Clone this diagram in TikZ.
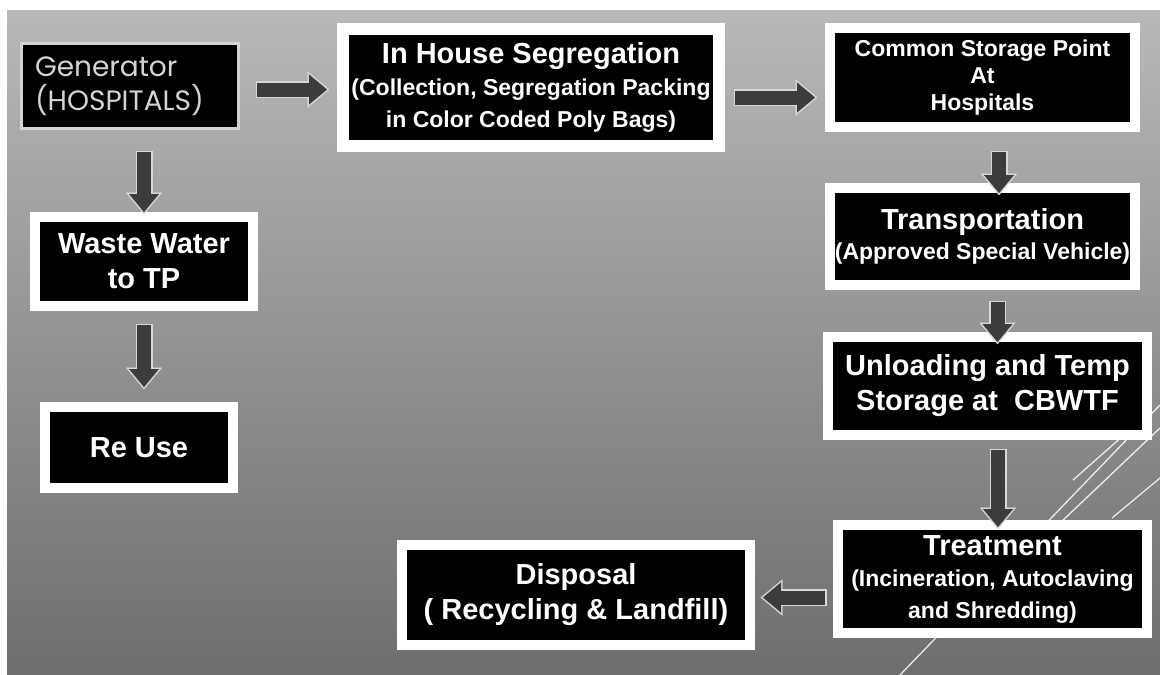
\documentclass[tikz,border=0pt]{standalone}
\usepackage{fontspec}
\setmainfont{Liberation Sans}
\newfontfamily\genfont{Poppins}
\usetikzlibrary{arrows.meta}

\definecolor{arrowgray}{HTML}{3C3C3C}
\definecolor{arrowedge}{HTML}{D8D8D8}
\definecolor{bgtop}{HTML}{B8B8B8}
\definecolor{bgbottom}{HTML}{6E6E6E}
\definecolor{genedge}{HTML}{D4D4D4}

\newcommand\titlesize{\fontsize{29}{35}\selectfont}
\newcommand\subsize{\fontsize{23}{27}\selectfont}

\tikzset{
	box/.style={fill=black, draw=white, line width=10pt, text=white, font=\bfseries\titlesize, align=center, inner sep=0pt},
	flow/.style 2 args={draw=arrowgray, line width=14pt, shorten <=#1, shorten >=#2,
		-{Triangle[length=18pt, width=30pt, line width=0.1pt]},
		preaction={draw=arrowedge, line width=17pt, shorten <=#1-1.5pt, shorten >=#2-2.3pt,
			-{Triangle[length=21.8pt, width=36.3pt, line width=0.1pt]}}},
	slash/.style={draw=white, line width=1.3pt, opacity=0.85}
}

\begin{document}
\begin{tikzpicture}[x=1pt, y=-1pt]
		\useasboundingbox (0,0) rectangle (1160,675);
		\fill[white] (0,0) rectangle (1160,675);
		\shade[top color=bgtop, bottom color=bgbottom] (7,10) rectangle (1160,675);
		
		% lines in the corner
		\draw[slash] (900,675) -- (1160,405);
		\draw[slash] (1000,580) -- (1160,428);
		\draw[slash] (1073,480) -- (1150,412);
		\draw[slash] (1112,518) -- (1160,478);
		
		% left column
		\node[box, draw=genedge, line width=3pt, font=\genfont\fontsize{28}{34}\selectfont, text=genedge,
			minimum width=217pt, minimum height=85pt, text width=190pt, align=left] (gen) at (130,86) {Generator\\(HOSPITALS)};
		\node[box, minimum width=218pt, minimum height=89pt] (waste) at (144,261.5) {Waste Water\\to TP};
		\node[box, minimum width=188pt, minimum height=81pt] (reuse) at (139,447.5) {Re Use};
		
		% top row
		\node[box, line width=12pt, minimum width=376pt, minimum height=117pt] (seg) at (531,87.5)
			{In House Segregation\\[-3pt]{\subsize (Collection, Segregation Packing}\\[-3pt]{\subsize in Color Coded Poly Bags)}};
		
		% right column
		\node[box, font=\bfseries\subsize, minimum width=305pt, minimum height=99pt] (common) at (982.5,77.5)
			{Common Storage Point\\At\\Hospitals};
		\node[box, minimum width=305pt, minimum height=97pt] (trans) at (982.5,236.5)
			{Transportation\\[-5pt]{\subsize (Approved Special Vehicle)}};
		\node[box, minimum width=319pt, minimum height=98pt] (unload) at (987.5,386)
			{Unloading and Temp\\Storage at\ \ CBWTF};
		\node[box, minimum width=309pt, minimum height=108pt] (treat) at (992.5,579)
			{Treatment\\[-4pt]{\subsize (Incineration, Autoclaving}\\[-3pt]{\subsize and Shredding)}};
		\node[box, minimum width=348pt, minimum height=100pt] (disp) at (576,595)
			{Disposal\\( Recycling \& Landfill)};
		
		% arrows
		\draw[flow={17pt}{10pt}] ([yshift=-3.5pt]gen.east) -- ([yshift=-3.5pt]gen.east -| seg.west);
		\draw[flow={10pt}{10pt}] ([yshift=-10pt]seg.east) -- ([yshift=-10pt]seg.east -| common.west);
		\draw[flow={20pt}{-10pt}] ([xshift=16.5pt]common.south) -- ([xshift=16.5pt]common.south |- trans.north);
		\draw[flow={12pt}{-10pt}] ([xshift=15pt]trans.south) -- ([xshift=15pt]trans.south |- unload.north);
		\draw[flow={10pt}{-7pt}] ([xshift=10.5pt]unload.south) -- ([xshift=10.5pt]unload.south |- treat.north);
		\draw[flow={8pt}{8pt}] ([yshift=-18.5pt]treat.west) -- ([yshift=-18.5pt]treat.west -| disp.east);
		\draw[flow={22pt}{0pt}] (waste.north |- gen.south) -- (waste.north);
		\draw[flow={14pt}{15pt}] (waste.south) -- (waste.south |- reuse.north);
	\end{tikzpicture}
\end{document}
